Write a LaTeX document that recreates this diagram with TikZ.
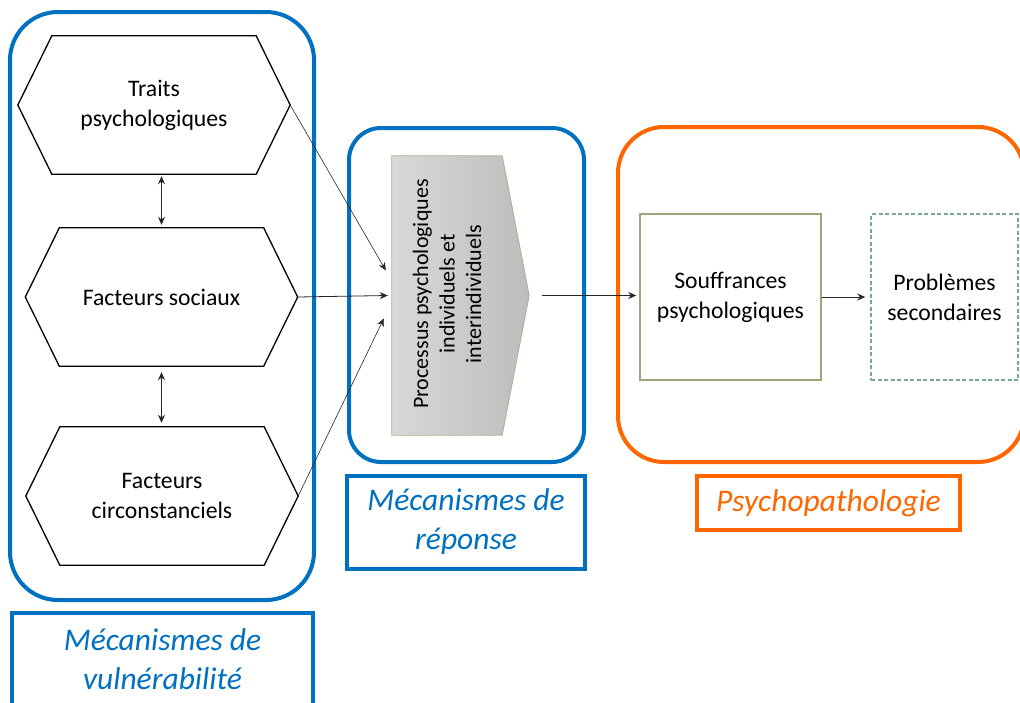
\documentclass[tikz,border=0pt]{standalone}
\usepackage{fontspec}
\setmainfont{Carlito}
\usetikzlibrary{arrows.meta, positioning}

\definecolor{groupblue}{RGB}{0,112,192}
\definecolor{grouporange}{RGB}{255,102,0}
\definecolor{procedge}{RGB}{172,176,142}
\definecolor{soufedge}{RGB}{160,164,120}
\definecolor{probedge}{RGB}{122,165,155}

\begin{document}
\begin{tikzpicture}[
    x = 1pt, y = -1pt,
    bodytext/.style = {font=\fontsize{23.7}{30}\selectfont},
    hexbox/.style = {bodytext, rectangle, minimum width=272pt, minimum height=138pt, align=center},
    hexline/.style = {draw=black, line width=1.3pt, line join=miter},
    bluegroup/.style = {draw=groupblue, line width=4pt, rounded corners=#1},
    orangegroup/.style = {draw=grouporange, line width=4pt, rounded corners=#1},
    tag/.style = {draw=#1, line width=4pt, text=#1, align=center,
                  font=\fontsize{31.5}{39}\selectfont\itshape},
    effect/.style = {bodytext, rectangle, line width=1.5pt, minimum height=166pt, align=center},
    line/.style = {-{Stealth[length=8pt, width=7pt]}, line width=0.8pt, black!85},
    dline/.style = {{Stealth[length=8pt, width=7pt]}-{Stealth[length=8pt, width=7pt]}, line width=0.8pt, black!85}
]
    \useasboundingbox (0,0) rectangle (1020,702);
    \clip (0,0) rectangle (1020,702);

    % Groups
    \node [bluegroup=48pt, minimum width=304pt, minimum height=588pt] (vulngroup) at (162,306) {};
    \node [bluegroup=32pt, minimum width=235pt, minimum height=334pt] (repgroup) at (466.5,295) {};
    \node [orangegroup=46pt, minimum width=406pt, minimum height=335pt] (psygroup) at (821,294.5) {};

    % Group labels
    \node [tag=groupblue, minimum width=301pt, minimum height=92pt] (vulntag) at (162.5,659) {M\'ecanismes de\\vuln\'erabilit\'e};
    \node [tag=groupblue, minimum width=238pt, minimum height=93pt] (reptag) at (466,522) {M\'ecanismes de\\r\'eponse};
    \node [tag=grouporange, minimum width=263pt, minimum height=54pt] (psytag) at (828.5,503) {Psychopathologie};

    % Vulnerability factors
    \node [hexbox] (traits) at (154,105) {Traits\\psychologiques};
    \node [hexbox] (sociaux) at (161.5,297) {Facteurs sociaux};
    \node [hexbox] (circon) at (162,496) {Facteurs\\circonstanciels};
    \foreach \h in {traits, sociaux, circon}
        \draw [hexline] (\h.west) -- ([xshift=34pt]\h.north west) -- ([xshift=-34pt]\h.north east)
            -- (\h.east) -- ([xshift=-34pt]\h.south east) -- ([xshift=34pt]\h.south west) -- cycle;

    % Response process
    \node [rectangle, minimum width=137pt, minimum height=279pt] (proc) at (460.5,295.5) {};
    \draw [draw=procedge, line width=0.8pt, left color=black!15, right color=black!26]
        (proc.north west) -- ([xshift=-27pt]proc.north east) -- (proc.east)
        -- ([xshift=-27pt]proc.south east) -- (proc.south west) -- cycle;
    \node [rotate=90, align=center, font=\fontsize{22}{26.5}\selectfont] (proctext) at (447,294)
        {Processus psychologiques\\individuels et\\interindividuels};

    % Psychopathology
    \node [effect, draw=soufedge, minimum width=181pt] (souf) at (730.5,297) {Souffrances\\psychologiques};
    \node [effect, draw=probedge, dash pattern=on 4pt off 2.5pt, minimum width=147pt] (prob) at (944.5,297) {Probl\`emes\\secondaires};

    % Edges
    \draw [dline, shorten <=2pt, shorten >=3pt] (traits.south -| sociaux.north) -- (sociaux.north);
    \draw [dline, shorten <=6pt, shorten >=4pt] (sociaux.south) -- (sociaux.south |- circon.north);
    \draw [line, line width=0.6pt] (traits.east) -- ([xshift=-6pt, yshift=25pt]proc.west);
    \draw [line] (sociaux.east) -- ([xshift=-4pt]proc.west);
    \draw [line, line width=0.6pt] (circon.east) -- ([xshift=-8pt, yshift=-23pt]proc.west);
    \draw [line, shorten >=3pt] ([xshift=13pt]proc.east) -- (proc.east -| souf.west);
    \draw [line, shorten >=5pt] (souf.east) -- (prob.west);

\end{tikzpicture}
\end{document}
